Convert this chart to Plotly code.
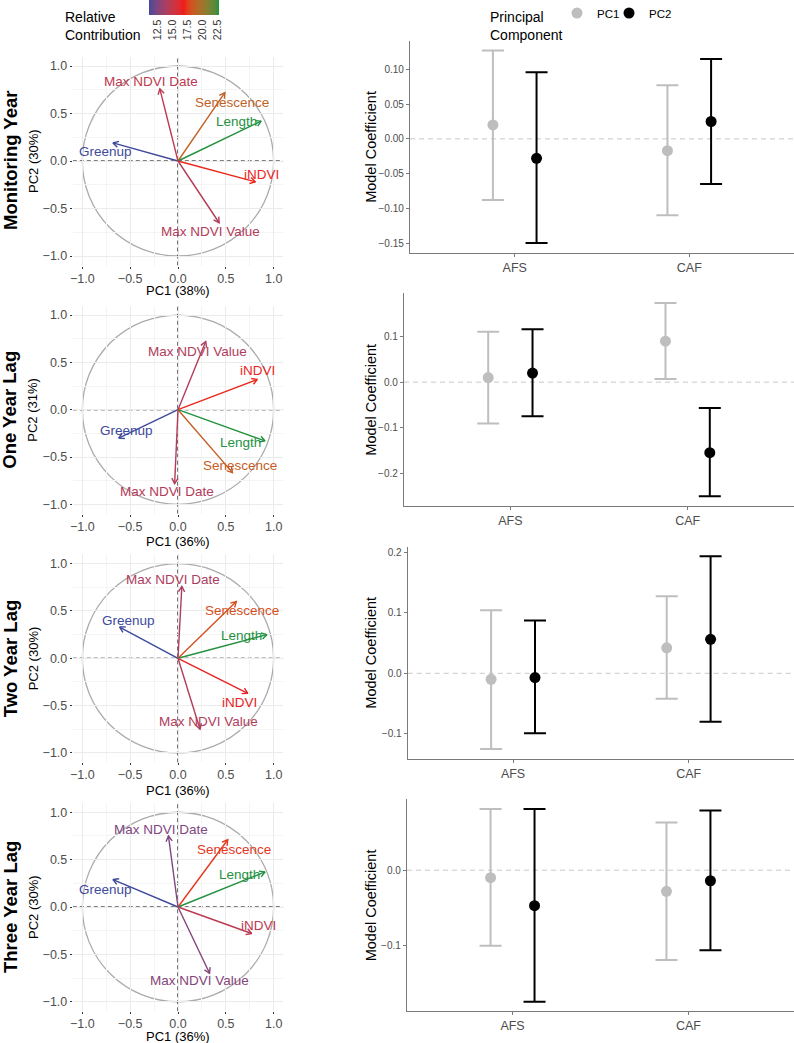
import math
import plotly.graph_objects as go

W, H = 794, 1043
FONT = "Liberation Sans"

# ---------------- DATA ----------------
row_titles = ["Monitoring Year", "One Year Lag", "Two Year Lag", "Three Year Lag"]
variables = ["Greenup", "Max NDVI Date", "Senescence", "Length", "iNDVI", "Max NDVI Value"]
pc1_pct = [38, 36, 36, 36]
pc2_pct = [30, 31, 30, 30]

# variable loadings (PC1, PC2) and relative contribution, in the order of `variables`
pc1_monitoring = [-0.68, -0.19, 0.49, 0.87, 0.81, 0.43]
pc2_monitoring = [0.19, 0.76, 0.72, 0.42, -0.22, -0.65]
contrib_monitoring = [11.0, 14.6, 18.8, 22.7, 17.0, 14.2]

pc1_lag1 = [-0.62, -0.035, 0.57, 0.91, 0.83, 0.29]
pc2_lag1 = [-0.30, -0.78, -0.665, -0.33, 0.32, 0.72]
contrib_lag1 = [11.5, 14.6, 18.8, 22.8, 17.3, 14.5]

pc1_lag2 = [-0.61, 0.04, 0.61, 0.93, 0.73, 0.23]
pc2_lag2 = [0.33, 0.76, 0.60, 0.25, -0.37, -0.75]
contrib_lag2 = [11.8, 14.6, 18.5, 23.0, 17.0, 14.8]

pc1_lag3 = [-0.68, -0.10, 0.52, 0.91, 0.77, 0.33]
pc2_lag3 = [0.29, 0.75, 0.71, 0.37, -0.28, -0.70]
contrib_lag3 = [13.2, 14.4, 18.7, 23.4, 16.3, 14.6]

colorbar_ticks = [12.5, 15.0, 17.5, 20.0, 22.5]

groups = ["AFS", "CAF"]
components = ["PC1", "PC2"]

# model coefficients: estimate, lower, upper (per group)
est_pc1_monitoring = [0.020, -0.017]
lo_pc1_monitoring = [-0.088, -0.110]
hi_pc1_monitoring = [0.127, 0.077]
est_pc2_monitoring = [-0.028, 0.025]
lo_pc2_monitoring = [-0.150, -0.065]
hi_pc2_monitoring = [0.096, 0.115]

est_pc1_lag1 = [0.010, 0.090]
lo_pc1_lag1 = [-0.091, 0.007]
hi_pc1_lag1 = [0.111, 0.174]
est_pc2_lag1 = [0.020, -0.155]
lo_pc2_lag1 = [-0.075, -0.251]
hi_pc2_lag1 = [0.116, -0.057]

est_pc1_lag2 = [-0.010, 0.042]
lo_pc1_lag2 = [-0.125, -0.042]
hi_pc1_lag2 = [0.104, 0.127]
est_pc2_lag2 = [-0.007, 0.056]
lo_pc2_lag2 = [-0.099, -0.080]
hi_pc2_lag2 = [0.087, 0.193]

est_pc1_lag3 = [-0.010, -0.028]
lo_pc1_lag3 = [-0.100, -0.119]
hi_pc1_lag3 = [0.081, 0.063]
est_pc2_lag3 = [-0.047, -0.014]
lo_pc2_lag3 = [-0.174, -0.106]
hi_pc2_lag3 = [0.081, 0.079]

PCA = [
    (pc1_monitoring, pc2_monitoring, contrib_monitoring),
    (pc1_lag1, pc2_lag1, contrib_lag1),
    (pc1_lag2, pc2_lag2, contrib_lag2),
    (pc1_lag3, pc2_lag3, contrib_lag3),
]
COEF = [
    [(est_pc1_monitoring, lo_pc1_monitoring, hi_pc1_monitoring),
     (est_pc2_monitoring, lo_pc2_monitoring, hi_pc2_monitoring)],
    [(est_pc1_lag1, lo_pc1_lag1, hi_pc1_lag1), (est_pc2_lag1, lo_pc2_lag1, hi_pc2_lag1)],
    [(est_pc1_lag2, lo_pc1_lag2, hi_pc1_lag2), (est_pc2_lag2, lo_pc2_lag2, hi_pc2_lag2)],
    [(est_pc1_lag3, lo_pc1_lag3, hi_pc1_lag3), (est_pc2_lag3, lo_pc2_lag3, hi_pc2_lag3)],
]

# ---------------- LAYOUT / STYLE ----------------
# repelled label centres (layout positions, in loading units)
LABEL_POS = [
    [(-0.76, 0.10), (-0.28, 0.835), (0.56, 0.62), (0.61, 0.42), (0.87, -0.14), (0.34, -0.74)],
    [(-0.54, -0.225), (-0.12, -0.86), (0.65, -0.585), (0.65, -0.345), (0.83, 0.41), (0.20, 0.62)],
    [(-0.515, 0.397), (-0.048, 0.835), (0.666, 0.51), (0.666, 0.236), (0.641, -0.469), (0.315, -0.673)],
    [(-0.756, 0.187), (-0.182, 0.813), (0.588, 0.609), (0.645, 0.348), (0.84, -0.197), (0.228, -0.781)],
]
PCA_X_PX = (72.8, 283.2)
PCA_Y_PX = [(56.5, 265.5), (305.6, 513.8), (554.2, 762.4), (802.8, 1011.2)]
PCA_XTITLE_Y = [290.5, 541, 790.5, 1036.5]
COEF_X0_PX = [410, 404, 407.7, 407]
COEF_Y_PX = [(41, 252.7), (293.3, 506), (546.7, 758.7), (799.3, 1011.3)]
COEF_DTICK = [0.05, 0.1, 0.1, 0.1]
COEF_FMT = [".2f", ".1f", ".1f", ".1f"]
COMP_COLORS = ["#BEBEBE", "#000000"]
LEGEND_X_PX = [557, 609]
DODGE = 0.125
GRAD = ["#3E4A9C", "#F01A1A", "#24913F"]


def hex2rgb(h):
    h = h.lstrip("#")
    return tuple(int(h[i:i + 2], 16) for i in (0, 2, 4))


XN, YN, ZN = 0.95047, 1.0, 1.08883


def rgb2lab(rgb):
    def lin(c):
        c = c / 255
        return c / 12.92 if c <= 0.04045 else ((c + 0.055) / 1.055) ** 2.4
    r, g, b = (lin(c) for c in rgb)
    X = 0.4124564 * r + 0.3575761 * g + 0.1804375 * b
    Y = 0.2126729 * r + 0.7151522 * g + 0.0721750 * b
    Z = 0.0193339 * r + 0.1191920 * g + 0.9503041 * b

    def f(t):
        return t ** (1 / 3) if t > 216 / 24389 else (24389 / 27 * t + 16) / 116
    fx, fy, fz = f(X / XN), f(Y / YN), f(Z / ZN)
    return (116 * fy - 16, 500 * (fx - fy), 200 * (fy - fz))


def lab2hex(L, a, b):
    fy = (L + 16) / 116
    fx = fy + a / 500
    fz = fy - b / 200

    def finv(t):
        return t ** 3 if t ** 3 > 216 / 24389 else (116 * t - 16) / (24389 / 27)
    X, Y, Z = XN * finv(fx), YN * finv(fy), ZN * finv(fz)
    r = 3.2404542 * X - 1.5371385 * Y - 0.4985314 * Z
    g = -0.9692660 * X + 1.8760108 * Y + 0.0415560 * Z
    bb = 0.0556434 * X - 0.2040259 * Y + 1.0572252 * Z

    def gam(c):
        c = max(0.0, min(1.0, c))
        return 12.92 * c if c <= 0.0031308 else 1.055 * c ** (1 / 2.4) - 0.055
    return "#%02x%02x%02x" % tuple(int(round(gam(c) * 255)) for c in (r, g, bb))


GRAD_LAB = [rgb2lab(hex2rgb(c)) for c in GRAD]


def grad_color(t):
    t = max(0.0, min(1.0, t))
    n = len(GRAD_LAB) - 1
    i = min(int(t * n), n - 1)
    u = t * n - i
    a, b = GRAD_LAB[i], GRAD_LAB[i + 1]
    return lab2hex(*(a[k] + (b[k] - a[k]) * u for k in range(3)))


COLORSCALE = [[k / 40, grad_color(k / 40)] for k in range(41)]


def ypaper(px):
    return 1 - px / H


fig = go.Figure()
layout = dict(
    width=W, height=H, margin=dict(l=0, r=0, t=0, b=0, pad=0, autoexpand=False),
    paper_bgcolor="white", plot_bgcolor="white",
    font=dict(family=FONT, color="#000000"),
    showlegend=True,
)
annotations = []
shapes = []

grid_major = "#EBEBEB"
grid_minor = "#F4F4F4"

for i in range(4):
    n = i + 1
    xs, ys, cs = PCA[i]
    xa, ya = f"x{n}", f"y{n}"
    axkey = "" if n == 1 else str(n)
    common = dict(
        range=[-1.1, 1.1], tickvals=[-1, -0.5, 0, 0.5, 1], tickformat=".1f",
        showgrid=True, gridcolor=grid_major, gridwidth=1,
        minor=dict(tickvals=[-0.75, -0.25, 0.25, 0.75], showgrid=True,
                   gridcolor=grid_minor, gridwidth=0.7, ticks=""),
        zeroline=False, showline=False, ticks="outside", ticklen=2,
        tickcolor="#333333", tickfont=dict(size=12.5, color="#4D4D4D", family=FONT),
        fixedrange=True,
    )
    layout["xaxis" + axkey] = dict(common, domain=[PCA_X_PX[0] / W, PCA_X_PX[1] / W], anchor=ya,
                                   ticklabelstandoff=-1)
    layout["yaxis" + axkey] = dict(common, domain=[ypaper(PCA_Y_PX[i][1]), ypaper(PCA_Y_PX[i][0])], anchor=xa)

    # unit circle & zero dashed lines
    shapes.append(dict(type="circle", xref=xa, yref=ya, x0=-1, y0=-1, x1=1, y1=1,
                       line=dict(color="#ABABAB", width=1.3), layer="below"))
    shapes.append(dict(type="line", xref=xa, yref=ya, x0=-1.1, x1=1.1, y0=0, y1=0,
                       line=dict(color="#000000", width=1.1, dash="4px,3px"), layer="below"))
    shapes.append(dict(type="line", xref=xa, yref=ya, x0=0, x1=0, y0=-1.1, y1=1.1,
                       line=dict(color="#000000", width=1.1, dash="4px,3px"), layer="below"))

    cmin, cmax = min(cs), max(cs)
    for v, (px, py, c) in enumerate(zip(xs, ys, cs)):
        col = grad_color((c - cmin) / (cmax - cmin))
        th = math.atan2(py, px)
        L, phi = 0.065, math.radians(30)
        hx1, hy1 = px - L * math.cos(th - phi), py - L * math.sin(th - phi)
        hx2, hy2 = px - L * math.cos(th + phi), py - L * math.sin(th + phi)
        fig.add_trace(go.Scatter(
            x=[0, px, None, hx1, px, hx2], y=[0, py, None, hy1, py, hy2],
            mode="lines", line=dict(color=col, width=1.4), xaxis=xa, yaxis=ya,
            showlegend=False, hoverinfo="skip"))
        lx, ly = LABEL_POS[i][v]
        annotations.append(dict(x=lx, y=ly, xref=xa, yref=ya, text=variables[v], showarrow=False,
                                font=dict(size=13.5, color=col, family=FONT),
                                xanchor="center", yanchor="middle"))

    ymid = (PCA_Y_PX[i][0] + PCA_Y_PX[i][1]) / 2
    annotations.append(dict(x=(PCA_X_PX[0] + PCA_X_PX[1]) / 2 / W, y=ypaper(PCA_XTITLE_Y[i]),
                            xref="paper", yref="paper", text=f"PC1 ({pc1_pct[i]}%)", showarrow=False,
                            font=dict(size=13, family=FONT), xanchor="center", yanchor="middle"))
    annotations.append(dict(x=33 / W, y=ypaper(ymid), xref="paper", yref="paper",
                            text=f"PC2 ({pc2_pct[i]}%)", showarrow=False, textangle=-90,
                            font=dict(size=13, family=FONT), xanchor="center", yanchor="middle"))
    annotations.append(dict(x=10 / W, y=ypaper(ymid), xref="paper", yref="paper",
                            text=f"<b>{row_titles[i]}</b>", showarrow=False, textangle=-90,
                            font=dict(size=18.5, family=FONT), xanchor="center", yanchor="middle"))

    # colour legend trace (shared legend of the first panel)
    if i == 0:
        fig.add_trace(go.Scatter(
            x=[None], y=[None], mode="markers", xaxis=xa, yaxis=ya, showlegend=False,
            hoverinfo="skip",
            marker=dict(color=[cmin, cmax], cmin=cmin, cmax=cmax, colorscale=COLORSCALE,
                        showscale=True,
                        colorbar=dict(orientation="h", x=184 / W, xanchor="center", y=1.0,
                                      yanchor="top", len=70, lenmode="pixels", thickness=15,
                                      thicknessmode="pixels", tickvals=colorbar_ticks,
                                      ticktext=["%.1f" % t for t in colorbar_ticks],
                                      tickangle=-90, ticks="", outlinewidth=0,
                                      xpad=0, ypad=0,
                                      tickfont=dict(size=10.5, color="#333333", family=FONT)))))

for i in range(4):
    n = i + 5
    xa, ya = f"x{n}", f"y{n}"
    axkey = str(n)
    allv = [v for comp in COEF[i] for arr in comp[1:] for v in arr]
    lo, hi = min(allv), max(allv)
    pad = 0.05 * (hi - lo)
    layout["xaxis" + axkey] = dict(
        domain=[COEF_X0_PX[i] / W, 1.0], range=[0.4, 2.6], tickvals=[1, 2], ticktext=groups,
        showline=True, linecolor="#7A7A7A", linewidth=1.3, ticks="outside", ticklen=3,
        tickcolor="#7A7A7A", showgrid=False, zeroline=False, anchor=ya, fixedrange=True,
        tickfont=dict(size=12.5, color="#4D4D4D", family=FONT))
    layout["yaxis" + axkey] = dict(
        domain=[ypaper(COEF_Y_PX[i][1]), ypaper(COEF_Y_PX[i][0])], range=[lo - pad, hi + pad],
        dtick=COEF_DTICK[i], tick0=0, tickformat=COEF_FMT[i],
        showline=True, linecolor="#7A7A7A", linewidth=1.3, ticks="outside", ticklen=3,
        tickcolor="#7A7A7A", showgrid=False, zeroline=False, anchor=xa, fixedrange=True,
        tickfont=dict(size=10, color="#4D4D4D", family=FONT))
    shapes.append(dict(type="line", xref=f"{xa} domain", yref=ya, x0=0, x1=1, y0=0, y1=0,
                       line=dict(color="#C8C8C8", width=1, dash="5px,4px"), layer="below"))
    for k, (est, lo_a, hi_a) in enumerate(COEF[i]):
        off = -DODGE if k == 0 else DODGE
        fig.add_trace(go.Scatter(
            x=[g + 1 + off for g in range(len(groups))], y=est, mode="markers",
            name=components[k], legendgroup=components[k], showlegend=(i == 0),
            legend="legend" if k == 0 else "legend2",
            marker=dict(color=COMP_COLORS[k], size=11),
            error_y=dict(type="data", symmetric=False,
                         array=[h - e for h, e in zip(hi_a, est)],
                         arrayminus=[e - l for e, l in zip(est, lo_a)],
                         color=COMP_COLORS[k], thickness=2, width=11),
            xaxis=xa, yaxis=ya, hoverinfo="skip"))
    ymid = (COEF_Y_PX[i][0] + COEF_Y_PX[i][1]) / 2
    annotations.append(dict(x=371 / W, y=ypaper(ymid), xref="paper", yref="paper",
                            text="Model Coefficient", showarrow=False, textangle=-90,
                            font=dict(size=14.5, family=FONT), xanchor="center", yanchor="middle"))

annotations.append(dict(x=63 / W, y=ypaper(26), xref="paper", yref="paper",
                        text="Relative<br>Contribution", showarrow=False, align="left",
                        font=dict(size=14, family=FONT), xanchor="left", yanchor="middle"))
annotations.append(dict(x=488 / W, y=ypaper(26), xref="paper", yref="paper",
                        text="Principal<br>Component", showarrow=False, align="left",
                        font=dict(size=14, family=FONT), xanchor="left", yanchor="middle"))

layout["annotations"] = annotations
layout["shapes"] = shapes
for key, lx in zip(["legend", "legend2"], LEGEND_X_PX):
    layout[key] = dict(orientation="h", x=lx / W, xanchor="left", y=ypaper(13), yanchor="middle",
                       font=dict(size=11.5, family=FONT), bgcolor="rgba(0,0,0,0)",
                       itemwidth=30, tracegroupgap=0)
fig.update_layout(**layout)
fig.write_html("out.html", config={"displayModeBar": False},
               post_script="document.body.style.margin='0';document.body.style.overflow='hidden';")
